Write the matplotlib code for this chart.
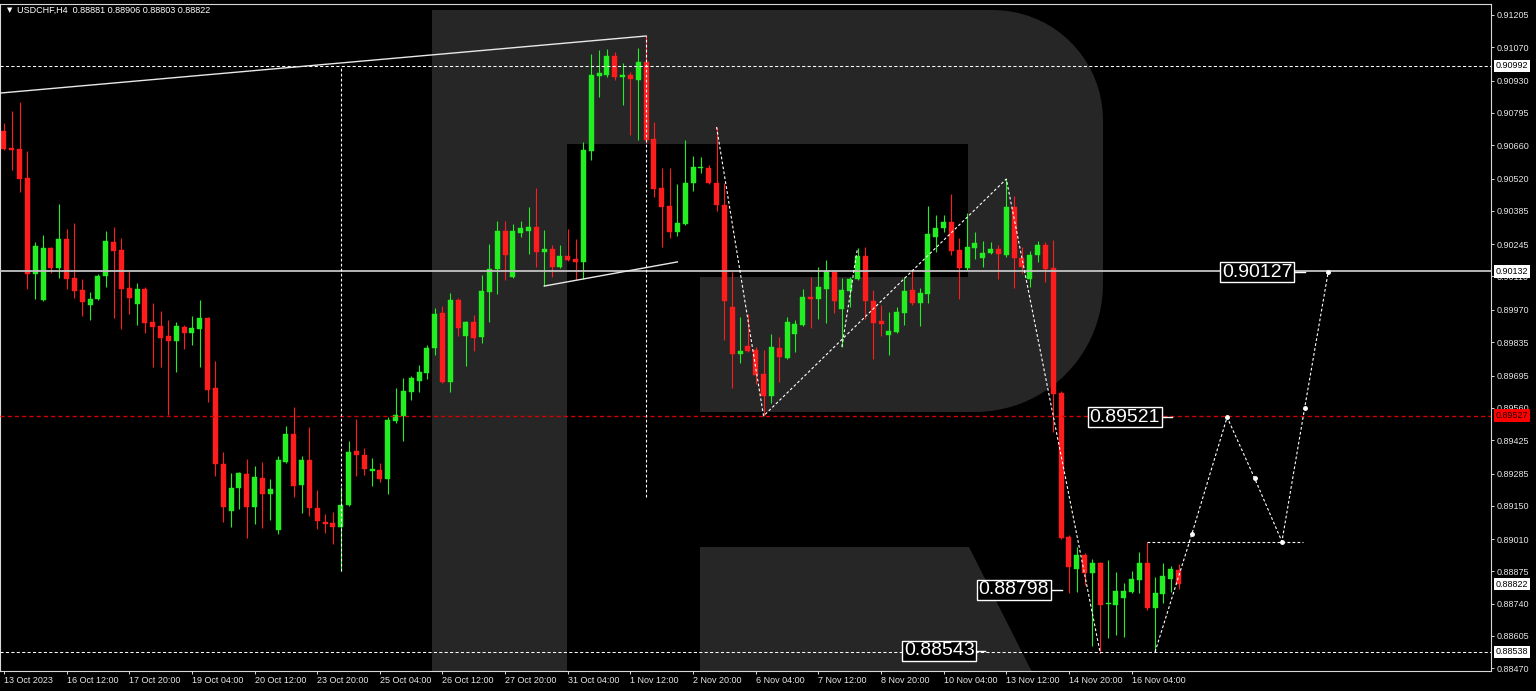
import numpy as np
import matplotlib.pyplot as plt
from matplotlib.patches import Polygon
from matplotlib.transforms import blended_transform_factory

# ---- data (USDCHF H4) ----
opens = [0.90719, 0.90648, 0.90644, 0.90522, 0.90120, 0.90012, 0.90229, 0.90146, 0.90267, 0.90104,
         0.90054, 0.89991, 0.90016, 0.90112, 0.90254, 0.90221, 0.90062, 0.89995, 0.90058, 0.89919,
         0.89903, 0.89861, 0.89840, 0.89898, 0.89873, 0.89890, 0.89936, 0.89643, 0.89325, 0.89128,
         0.89224, 0.89283, 0.89145, 0.89266, 0.89199, 0.89048, 0.89333, 0.89450, 0.89237, 0.89342,
         0.89141, 0.89082, 0.89078, 0.89061, 0.89153, 0.89379, 0.89362, 0.89295, 0.89300, 0.89262,
         0.89505, 0.89526, 0.89626, 0.89672, 0.89706, 0.89811, 0.89957, 0.89668, 0.90012, 0.89861,
         0.89919, 0.89857, 0.90045, 0.90141, 0.90301, 0.90108, 0.90292, 0.90301, 0.90317, 0.90213,
         0.90223, 0.90150, 0.90194, 0.90183, 0.90171, 0.90636, 0.90950, 0.90954, 0.91033, 0.90945,
         0.90954, 0.90933, 0.91008, 0.90686, 0.90481, 0.90405, 0.90296, 0.90330, 0.90502, 0.90564,
         0.90564, 0.90502, 0.90409, 0.89982, 0.89785, 0.89819, 0.89802, 0.89702, 0.89610, 0.89811,
         0.89769, 0.89869, 0.89907, 0.90024, 0.90016, 0.90058, 0.90129, 0.89974, 0.90049, 0.90100,
         0.90196, 0.90007, 0.89924, 0.89865, 0.89878, 0.89957, 0.90054, 0.89999, 0.90037, 0.90275,
         0.90313, 0.90338, 0.90221, 0.90146, 0.90229, 0.90187, 0.90208, 0.90225, 0.90200, 0.90401,
         0.90187, 0.90100, 0.90200, 0.90242, 0.90146, 0.89622, 0.89019, 0.88885, 0.88944, 0.88868,
         0.88910, 0.88738, 0.88734, 0.88763, 0.88789, 0.88839, 0.88910, 0.88722, 0.88780, 0.88843,
         0.88881]
highs = [0.90753, 0.90803, 0.90841, 0.90636, 0.90254, 0.90284, 0.90233, 0.90414, 0.90309, 0.90334,
         0.90100, 0.90045, 0.90120, 0.90301, 0.90317, 0.90271, 0.90133, 0.90083, 0.90066, 0.89999,
         0.89965, 0.89928, 0.89919, 0.89907, 0.89945, 0.90012, 0.89940, 0.89756, 0.89375, 0.89287,
         0.89291, 0.89346, 0.89316, 0.89333, 0.89262, 0.89358, 0.89484, 0.89563, 0.89358, 0.89480,
         0.89216, 0.89115, 0.89124, 0.89228, 0.89421, 0.89513, 0.89392, 0.89350, 0.89329, 0.89522,
         0.89643, 0.89685, 0.89693, 0.89739, 0.89823, 0.89978, 0.89987, 0.90041, 0.90020, 0.89924,
         0.89949, 0.90116, 0.90246, 0.90342, 0.90342, 0.90330, 0.90342, 0.90401, 0.90481, 0.90305,
         0.90242, 0.90242, 0.90309, 0.90267, 0.90673, 0.91042, 0.91059, 0.91063, 0.91050, 0.91004,
         0.90966, 0.91067, 0.91117, 0.90757, 0.90564, 0.90564, 0.90497, 0.90682, 0.90615, 0.90611,
         0.90577, 0.90736, 0.90502, 0.90129, 0.89940, 0.89953, 0.89815, 0.89802, 0.89869, 0.89857,
         0.89940, 0.89928, 0.90058, 0.90108, 0.90150, 0.90179, 0.90137, 0.90104, 0.90108, 0.90229,
         0.90234, 0.90054, 0.89991, 0.89961, 0.89982, 0.90108, 0.90137, 0.90062, 0.90405, 0.90368,
         0.90368, 0.90456, 0.90271, 0.90376, 0.90296, 0.90259, 0.90254, 0.90242, 0.90518, 0.90447,
         0.90234, 0.90217, 0.90259, 0.90254, 0.90263, 0.89630, 0.89027, 0.88977, 0.88952, 0.88927,
         0.88914, 0.88923, 0.88872, 0.88826, 0.88877, 0.88956, 0.89000, 0.88851, 0.88910, 0.88898,
         0.88906]
lows = [0.90640, 0.90556, 0.90464, 0.90058, 0.90016, 0.90007, 0.90125, 0.90104, 0.90058, 0.90020,
        0.89945, 0.89928, 0.90012, 0.90066, 0.89936, 0.89890, 0.89953, 0.89907, 0.89873, 0.89731,
        0.89731, 0.89530, 0.89710, 0.89806, 0.89823, 0.89731, 0.89584, 0.89274, 0.89082, 0.89061,
        0.89136, 0.89015, 0.89073, 0.89057, 0.89090, 0.89032, 0.89329, 0.89187, 0.89120, 0.89107,
        0.89053, 0.89036, 0.88990, 0.88877, 0.89149, 0.89274, 0.89279, 0.89233, 0.89249, 0.89199,
        0.89496, 0.89421, 0.89593, 0.89626, 0.89681, 0.89781, 0.89664, 0.89626, 0.89861, 0.89735,
        0.89798, 0.89832, 0.89919, 0.90037, 0.90095, 0.90104, 0.90275, 0.90204, 0.90150, 0.90070,
        0.90108, 0.90146, 0.90175, 0.90095, 0.90100, 0.90598, 0.90862, 0.90945, 0.90933, 0.90828,
        0.90703, 0.90682, 0.90669, 0.90443, 0.90234, 0.90271, 0.90280, 0.90326, 0.90468, 0.90543,
        0.90497, 0.90384, 0.89844, 0.89643, 0.89748, 0.89794, 0.89660, 0.89526, 0.89580, 0.89668,
        0.89765, 0.89794, 0.89903, 0.89894, 0.89932, 0.89915, 0.89957, 0.89815, 0.89982, 0.90095,
        0.89932, 0.89765, 0.89861, 0.89781, 0.89873, 0.89907, 0.89991, 0.89903, 0.89999, 0.90213,
        0.90296, 0.90200, 0.90016, 0.90137, 0.90183, 0.90150, 0.90204, 0.90100, 0.90192, 0.90062,
        0.90125, 0.90066, 0.90171, 0.90087, 0.89459, 0.89011, 0.88784, 0.88789, 0.88818, 0.88563,
        0.88532, 0.88596, 0.88608, 0.88600, 0.88784, 0.88784, 0.88713, 0.88538, 0.88742, 0.88789,
        0.88803]
closes = [0.90644, 0.90640, 0.90518, 0.90120, 0.90238, 0.90229, 0.90146, 0.90267, 0.90100, 0.90049,
          0.90003, 0.90016, 0.90112, 0.90259, 0.90217, 0.90058, 0.90020, 0.90058, 0.89915, 0.89898,
          0.89852, 0.89840, 0.89903, 0.89873, 0.89894, 0.89936, 0.89635, 0.89325, 0.89145, 0.89224,
          0.89287, 0.89145, 0.89270, 0.89199, 0.89220, 0.89342, 0.89450, 0.89233, 0.89342, 0.89141,
          0.89086, 0.89073, 0.89061, 0.89153, 0.89375, 0.89362, 0.89304, 0.89304, 0.89262, 0.89509,
          0.89530, 0.89631, 0.89685, 0.89710, 0.89811, 0.89953, 0.89668, 0.90012, 0.89894, 0.89919,
          0.89852, 0.90049, 0.90141, 0.90301, 0.90200, 0.90301, 0.90311, 0.90317, 0.90213, 0.90225,
          0.90150, 0.90194, 0.90179, 0.90171, 0.90640, 0.90954, 0.90962, 0.91033, 0.90945, 0.90954,
          0.90937, 0.91008, 0.90682, 0.90476, 0.90401, 0.90296, 0.90334, 0.90502, 0.90569, 0.90569,
          0.90502, 0.90409, 0.90007, 0.89785, 0.89798, 0.89798, 0.89697, 0.89610, 0.89815, 0.89773,
          0.89919, 0.89911, 0.90024, 0.90016, 0.90066, 0.90133, 0.90007, 0.90054, 0.90100, 0.90196,
          0.90007, 0.89915, 0.89911, 0.89882, 0.89961, 0.90049, 0.89999, 0.90041, 0.90288, 0.90313,
          0.90338, 0.90217, 0.90146, 0.90234, 0.90250, 0.90208, 0.90225, 0.90204, 0.90401, 0.90187,
          0.90150, 0.90200, 0.90242, 0.90141, 0.89618, 0.89015, 0.88893, 0.88944, 0.88868, 0.88910,
          0.88734, 0.88742, 0.88793, 0.88793, 0.88843, 0.88910, 0.88722, 0.88784, 0.88856, 0.88885,
          0.88822]

date_idx = [0, 8, 16, 24, 32, 40, 48, 56, 64, 72, 80, 88, 96, 104, 112, 120, 128, 136, 144]
date_labels = ["13 Oct 2023", "16 Oct 12:00", "17 Oct 20:00", "19 Oct 04:00", "20 Oct 12:00",
               "23 Oct 20:00", "25 Oct 04:00", "26 Oct 12:00", "27 Oct 20:00", "31 Oct 04:00",
               "1 Nov 12:00", "2 Nov 20:00", "6 Nov 04:00", "7 Nov 12:00", "8 Nov 20:00",
               "10 Nov 04:00", "13 Nov 12:00", "14 Nov 20:00", "16 Nov 04:00"]
price_ticks = [0.91205, 0.91070, 0.90930, 0.90795, 0.90660, 0.90520, 0.90385, 0.90245, 0.90110,
               0.89970, 0.89835, 0.89695, 0.89560, 0.89425, 0.89285, 0.89150, 0.89010, 0.88875,
               0.88740, 0.88605, 0.88470]

# drawn objects
upper_line_idx = [-0.51, 82]
upper_line_px = [0.90878, 0.91117]
lower_line_idx = [69, 86]
lower_line_px = [0.90070, 0.90171]
wave_idx = [91, 97, 128, 140]
wave_px = [0.90736, 0.89526, 0.90518, 0.88532]
wave2_idx = [107, 109]
wave2_px = [0.89815, 0.90229]
fc_idx = [147, 151.7, 156.2, 159.7, 163.2, 166.1, 169.1]
fc_px = [0.88538, 0.89032, 0.89521, 0.89266, 0.89000, 0.89559, 0.90127]
fc_low_idx = [146, 165.9]
fc_low_px = 0.89000
vline1 = (43, 0.90992, 0.88877)
vline2 = (82, 0.91117, 0.89187)
lvl_top, lvl_mid, lvl_red, lvl_low = 0.90992, 0.90132, 0.89527, 0.88538

boxes = [("0.88543", 0.88543, 124.3, 125.3),
         ("0.88798", 0.88798, 133.8, 135.1),
         ("0.89521", 0.89521, 148.0, 149.2),
         ("0.90127", 0.90127, 164.9, 166.2)]
axis_marks = [("0.90992", 0.90992, "white", "black"),
              ("0.90132", 0.90132, "white", "black"),
              ("0.89527", 0.89527, "#ff0000", "#200000"),
              ("0.88822", 0.88822, "white", "black"),
              ("0.88538", 0.88538, "white", "black")]

BULL, BEAR = "#22ee22", "#ff1c1c"
FONT = ["Liberation Sans", "DejaVu Sans"]

W, H = 1536, 691
fig = plt.figure(figsize=(W / 100, H / 100), dpi=100, facecolor="black")
AX_W, AX_TOP, AX_BOT = 1491, 4, 671
ax = fig.add_axes([0, (H - AX_BOT) / H, AX_W / W, (AX_BOT - AX_TOP) / H], facecolor="black")

# ---- watermark "R" (pixel geometry -> axes fraction) ----
def pa(x, y):
    return (x / AX_W, (AX_BOT - y) / (AX_BOT - AX_TOP))

t1 = np.radians(np.linspace(90, 0, 20))
arc1 = [(993 + 110 * np.cos(t), 120 - 110 * np.sin(t)) for t in t1]
t2 = np.radians(np.linspace(0, -90, 24))
arc2 = [(975 + 128 * np.cos(t), 284 - 128 * np.sin(t)) for t in t2]
outer = [(432, 10)] + arc1 + [(1103, 284)] + arc2 + [(700, 412), (700, 277), (968, 277),
                                                      (968, 144), (567, 144), (567, 680), (432, 680)]
leg = [(700, 547), (969, 547), (1036, 680), (700, 680)]
for poly in (outer, leg):
    ax.add_patch(Polygon([pa(x, y) for x, y in poly], closed=True, transform=ax.transAxes,
                         facecolor="#262626", edgecolor="none", zorder=0))

# ---- candles ----
o = np.array(opens); h = np.array(highs); l = np.array(lows); c = np.array(closes)
idx = np.arange(len(o))
cols = np.where(c >= o, BULL, BEAR)
ax.vlines(idx, l, h, colors=cols, lw=0.8, zorder=2)
body_lo = np.minimum(o, c)
body_h = np.maximum(np.abs(c - o), 0.00004)
ax.bar(idx, body_h, bottom=body_lo, width=0.64, color=cols, edgecolor=cols, lw=0.3, zorder=2)

# ---- horizontal levels ----
ax.axhline(lvl_top, color="white", lw=0.75, dashes=(3, 2.2), zorder=3)
ax.axhline(lvl_mid, color="#c4c4c4", lw=1.3, zorder=3)
ax.axhline(lvl_red, color="#d40000", lw=1.0, dashes=(3, 2.2), zorder=3)
ax.axhline(lvl_low, color="white", lw=0.75, dashes=(3, 2.2), zorder=3)

# ---- trend lines and zigzags ----
ax.plot(upper_line_idx, upper_line_px, color="#e8e8e8", lw=1.0, zorder=3)
ax.plot(lower_line_idx, lower_line_px, color="#e8e8e8", lw=1.0, zorder=3)
dash = dict(color="white", lw=0.8, dashes=(2.5, 2), zorder=4)
ax.plot(wave_idx, wave_px, **dash)
ax.plot(wave2_idx, wave2_px, **dash)
ax.plot(fc_idx, fc_px, **dash)
ax.plot(fc_low_idx, [fc_low_px, fc_low_px], **dash)
ax.plot(fc_idx[1:], fc_px[1:], ls="none", marker="o", ms=2.5, color="white", zorder=4)
ax.vlines([vline1[0]], vline1[2], vline1[1], color="white", lw=0.8, linestyles=(0, (2.5, 2)), zorder=3)
ax.vlines([vline2[0]], vline2[2], vline2[1], color="white", lw=0.8, linestyles=(0, (2.5, 2)), zorder=3)

# ---- boxed price labels ----
for txt, p, xr, xt in boxes:
    ax.text(xr - 0.35, p, txt, ha="right", va="center", fontsize=14, family=FONT, color="white",
            zorder=5, bbox=dict(boxstyle="square,pad=0.08", fc="black", ec="white", lw=1.0))
    ax.plot([xr, xt], [p, p], color="white", lw=1.0, zorder=5)

# ---- axes styling ----
ax.set_xlim(-0.51, 189.9)
ax.set_ylim(0.88458, 0.91251)
for s in ax.spines.values():
    s.set_color("#d8d8d8")
    s.set_linewidth(0.8)

ax.yaxis.tick_right()
ax.set_yticks(price_ticks)
ax.set_yticklabels([f"{v:.5f}" for v in price_ticks])
ax.tick_params(axis="y", colors="#d8d8d8", labelcolor="#e6e6e6", length=2.2, width=0.7,
               pad=1.5, labelsize=6.5)
ax.set_xticks(date_idx)
ax.set_xticklabels(date_labels)
ax.tick_params(axis="x", colors="#d8d8d8", labelcolor="#e6e6e6", length=2.2, width=0.7,
               pad=1.5, labelsize=6.5)
for lbl in ax.get_xticklabels() + ax.get_yticklabels():
    lbl.set_family(FONT)
for lbl in ax.get_xticklabels():
    lbl.set_ha("left")

tr = blended_transform_factory(ax.transAxes, ax.transData)
for txt, p, fc, tc in axis_marks:
    ax.text(1.0 + 5 / AX_W, p, txt, transform=tr, ha="left", va="center", fontsize=6.5,
            family=FONT, color=tc, clip_on=False, zorder=6,
            bbox=dict(boxstyle="square,pad=0.2", fc=fc, ec="none"))

fig.text(17 / W, 1 - 10 / H, "USDCHF,H4  0.88881 0.88906 0.88803 0.88822", ha="left", va="center",
         fontsize=6.5, family=FONT, color="white")
fig.text(7 / W, 1 - 10 / H, "\u25bc", ha="left", va="center", fontsize=5, family=["DejaVu Sans"],
         color="white")

fig.savefig("out.png", dpi=100, facecolor="black")
